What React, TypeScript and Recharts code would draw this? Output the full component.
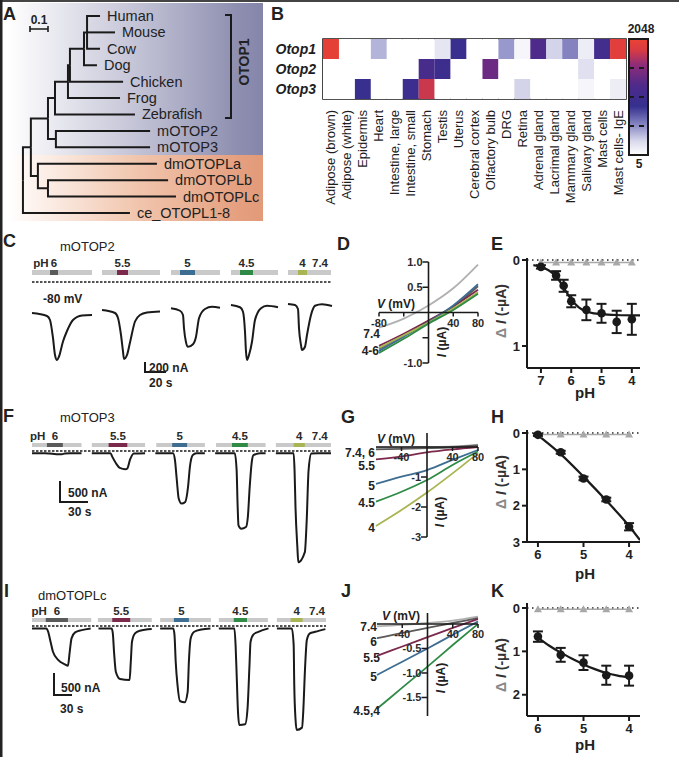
import React from "react";
import {
  ComposedChart,
  BarChart,
  Bar,
  Cell,
  Line,
  Scatter,
  XAxis,
  YAxis,
  ReferenceArea,
  ReferenceLine,
  ErrorBar,
} from "recharts";

const FONT = "'Liberation Sans', Arial, Helvetica, sans-serif";
const INK = "#1a1a1a";
const ZERO = { top: 0, right: 0, bottom: 0, left: 0 };
const PH_COLORS = ["#5a5a5a", "#7b2a4c", "#3e6d92", "#2f8a45", "#a9b552"];
const GRAY_74 = "#b0b0b0";

// ---------- A: tree ----------
const leafNames = ["Human", "Mouse", "Cow", "Dog", "Chicken", "Frog", "Zebrafish", "mOTOP2", "mOTOP3", "dmOTOPLa", "dmOTOPLb", "dmOTOPLc", "ce_OTOPL1-8"];
const leafParents = ["nHMC", "nHMC", "nHMC", "nDog", "nChick", "nFrog", "n5", "n6", "n6", "n3", "n4", "n4", "root"];
const leafDepth = [0.428, 0.511, 0.428, 0.411, 0.556, 0.539, 0.622, 0.706, 0.706, 0.744, 0.806, 0.85, 0.594];
const nodeIds = ["root", "n1", "n2", "n3", "n4", "n5", "n6", "nFrog", "nChick", "nDog", "nHMC"];
const nodeParents = [null, "root", "n1", "n1", "n3", "n2", "n2", "n5", "nFrog", "nChick", "nDog"];
const nodeDepth = [0, 0.044, 0.139, 0.083, 0.139, 0.178, 0.183, 0.25, 0.261, 0.339, 0.356];
const nodeRow = [10, 8, 6.25, 9.75, 10.5, 5, 7.5, 4, 3, 2, 1];

// ---------- B: heatmap ----------
const tissues = ["Adipose (brown)", "Adipose (white)", "Epidermis", "Heart", "Intestine, large", "Intestine, small", "Stomach", "Testis", "Uterus", "Cerebral cortex", "Olfactory bulb", "DRG", "Retina", "Adrenal gland", "Lacrimal gland", "Mammary gland", "Salivary gland", "Mast cells", "Mast cells- IgE"];
const genes = ["Otop1", "Otop2", "Otop3"];
const otop1 = [1700, 0, 0, 15, 0, 0, 0, 8, 75, 0, 0, 20, 6, 185, 11, 25, 7, 115, 1500];
const otop2 = [0, 0, 0, 0, 0, 0, 137, 90, 0, 0, 300, 0, 0, 0, 0, 0, 9, 0, 0];
const otop3 = [0, 0, 75, 0, 0, 85, 990, 0, 0, 0, 0, 0, 11, 0, 0, 0, 6, 0, 7];
const heatMin = 5;
const heatMax = 2048;
const heatStops: [number, string][] = [
  [0, "#ffffff"], [0.12, "#d9d9ec"], [0.25, "#8d8dc6"], [0.42, "#35308f"],
  [0.6, "#4e2a8b"], [0.78, "#902c78"], [0.9, "#d63b45"], [1, "#ec4232"],
];
const cbDashes = [22.6, 101, 453];

// ---------- C / F / I: current traces (t in s, I in nA) ----------
const traceC = [
  [[0, 0], [15, -60], [18, -140], [21, -500], [23, -840], [25, -940], [27, -870], [31, -570], [35, -360], [41, -140], [50, -50], [60, -40]],
  [[70, 60], [83, 0], [86, -100], [89, -440], [91, -770], [92, -920], [95, -840], [98, -590], [103, -170], [108, -40], [115, 10], [128, 30]],
  [[139, 95], [148, 45], [151, -40], [152, -305], [154, -585], [156, -675], [161, -625], [164, -475], [167, -105], [173, 80], [180, 125], [188, 105]],
  [[199, 160], [208, 115], [211, 25], [213, -375], [214, -775], [215, -940], [217, -840], [220, -575], [223, -140], [229, 95], [235, 145], [246, 115]],
  [[256, 180], [263, 160], [266, 80], [267, -305], [269, -640], [270, -740], [273, -675], [275, -440], [279, -40], [283, 145], [290, 175], [300, 140]],
];
const traceF = [
  [[0, 0], [14, 0], [19, -8], [26, -24], [32, -24], [35, -8], [41, 0], [53, 0]],
  [[64, 0], [84, 0], [86, -89], [90, -247], [94, -353], [100, -384], [102, -367], [105, -151], [109, -8], [121, 0]],
  [[132, 0], [151, 0], [153, -168], [155, -648], [157, -1087], [160, -1207], [164, -1167], [167, -808], [169, -328], [172, -48], [176, 0], [185, 0]],
  [[196, 0], [217, 0], [219, -408], [220, -1207], [221, -1728], [224, -1808], [229, -1768], [231, -1528], [233, -808], [235, -248], [237, -48], [244, 0], [250, 0]],
  [[261, 0], [280, 0], [281, -408], [282, -1288], [284, -2248], [285, -2608], [292, -2368], [294, -1608], [296, -408], [299, -8], [306, 0], [320, 0]],
];
const traceI = [
  [[0, 0], [24, 0], [27, -77], [31, -304], [35, -531], [44, -720], [55, -817], [60, -849], [63, -531], [66, -227], [72, -91], [83, -39], [98, 0]],
  [[111, 0], [133, 0], [135, -113], [137, -531], [140, -985], [147, -1150], [163, -1173], [165, -757], [167, -304], [172, -113], [180, -54], [200, -16]],
  [[214, 0], [236, 0], [238, -152], [240, -757], [243, -1286], [247, -1650], [255, -1680], [260, -1438], [262, -757], [265, -227], [271, -77], [283, -23], [298, 0]],
  [[312, 0], [338, 0], [340, -379], [342, -1135], [344, -1892], [346, -2194], [356, -2178], [360, -1815], [363, -908], [365, -304], [370, -136], [378, -77], [395, 0]],
  [[409, 0], [434, 0], [437, -379], [438, -1286], [440, -2043], [442, -2308], [451, -2255], [453, -1892], [456, -908], [459, -265], [464, -113], [473, -77], [490, -16]],
];
// perfusion windows (s): grey = bath, coloured = acid pulse
const stimC = { gray: [[0, 60], [70, 128], [139, 188], [199, 246], [256, 299]], ph: [[18, 26], [85, 96], [148, 163], [208, 221], [266, 275]], phAt: 9, at74: 288 };
const stimF = { gray: [[0, 53], [64, 121], [133, 185], [197, 250], [261, 320]], ph: [[16, 33], [82, 102], [150, 166], [214, 231], [280, 292]], phAt: 6, at74: 308 };
const stimI = { gray: [[0, 99], [110, 200], [214, 299], [312, 394], [409, 491]], ph: [[23, 60], [134, 164], [237, 262], [337, 359], [432, 452]], phAt: 12, at74: 476 };
const pulseLabels = ["6", "5.5", "5", "4.5", "4"];

// ---------- D / G / J: I-V curves (mV, uA) ----------
const ivV = [-80, -40, 0, 40, 80];
const ivD = [
  { c: GRAY_74, i: [-0.3, -0.12, 0.14, 0.48, 0.95] },
  { c: PH_COLORS[0], i: [-0.72, -0.45, -0.17, 0.12, 0.52] },
  { c: PH_COLORS[1], i: [-0.66, -0.42, -0.16, 0.12, 0.45] },
  { c: PH_COLORS[2], i: [-0.76, -0.48, -0.19, 0.14, 0.56] },
  { c: PH_COLORS[4], i: [-0.7, -0.45, -0.2, 0.08, 0.4] },
  { c: PH_COLORS[3], i: [-0.8, -0.52, -0.22, 0.05, 0.37] },
];
const ivG = [
  { c: GRAY_74, i: [-0.02, -0.01, 0, 0.02, 0.08] },
  { c: PH_COLORS[0], i: [-0.08, -0.06, -0.04, -0.01, 0.05] },
  { c: PH_COLORS[1], i: [-0.41, -0.32, -0.18, -0.08, 0] },
  { c: PH_COLORS[2], i: [-1.23, -0.99, -0.77, -0.43, -0.1] },
  { c: PH_COLORS[3], i: [-1.82, -1.49, -1.1, -0.6, -0.15] },
  { c: PH_COLORS[4], i: [-2.63, -2.1, -1.52, -0.88, -0.2] },
];
const ivJ = [
  { c: GRAY_74, i: [-0.05, -0.02, 0.02, 0.07, 0.15] },
  { c: PH_COLORS[0], i: [-0.29, -0.18, -0.08, 0.02, 0.12] },
  { c: PH_COLORS[1], i: [-0.65, -0.46, -0.27, -0.08, 0.1] },
  { c: PH_COLORS[2], i: [-1.04, -0.77, -0.5, -0.22, 0.05] },
  { c: PH_COLORS[3], i: [-1.73, -1.3, -0.87, -0.43, 0] },
];

// ---------- E / H / K: dose response ----------
const ePH = [7, 6.5, 6.25, 6, 5.5, 5, 4.5, 4];
const eVal = [0.08, 0.18, 0.3, 0.48, 0.58, 0.62, 0.72, 0.69];
const eErr = [0.02, 0.05, 0.07, 0.07, 0.12, 0.11, 0.13, 0.18];
const eFitPH = [7.25, 7, 6.75, 6.5, 6.25, 6, 5.75, 5.5, 5.25, 5, 4.5, 3.73];
const eFitVal = [0.06, 0.08, 0.12, 0.19, 0.32, 0.46, 0.55, 0.6, 0.62, 0.63, 0.64, 0.645];
const eCtrlPH = [7, 6.5, 6, 5.5, 5, 4.5, 4];
const eCtrlVal = [0.03, 0.03, 0.03, 0.03, 0.03, 0.03, 0.03];

const hPH = [6, 5.5, 5, 4.5, 4];
const hVal = [0.05, 0.53, 1.25, 1.83, 2.58];
const hErr = [0.03, 0.04, 0.05, 0.05, 0.1];
const hFitPH = [6.08, 6, 5.5, 5, 4.5, 4, 3.76];
const hFitVal = [-0.02, 0.06, 0.58, 1.2, 1.86, 2.56, 2.95];
const hCtrlVal = [0.04, 0.04, 0.04, 0.04, 0.04];

const kPH = [6, 5.5, 5, 4.5, 4];
const kVal = [0.66, 1.08, 1.26, 1.55, 1.56];
const kErr = [0.12, 0.16, 0.17, 0.22, 0.23];
const kFitPH = [6, 5.75, 5.5, 5.25, 5, 4.75, 4.5, 4.25, 4];
const kFitVal = [0.68, 0.87, 1.03, 1.17, 1.3, 1.41, 1.5, 1.56, 1.6];
const kCtrlVal = [0.03, 0.03, 0.03, 0.03, 0.03];

// ---------- helpers ----------
const hexToRgb = (h: string) => [1, 3, 5].map((k) => parseInt(h.slice(k, k + 2), 16));
function heatColor(v: number) {
  if (v < heatMin) return "#ffffff";
  const t = Math.min(1, Math.log(v / heatMin) / Math.log(heatMax / heatMin));
  for (let k = 1; k < heatStops.length; k++) {
    const [t1, c1] = heatStops[k];
    const [t0, c0] = heatStops[k - 1];
    if (t <= t1) {
      const f = (t - t0) / (t1 - t0);
      const a = hexToRgb(c0);
      const b = hexToRgb(c1);
      return `rgb(${a.map((x, j) => Math.round(x + (b[j] - x) * f)).join(",")})`;
    }
  }
  return heatStops[heatStops.length - 1][1];
}
const pts = (xs: number[], ys: number[]) => xs.map((x, k) => ({ x, y: ys[k] }));

const Abs = ({ left, top, children }: any) => (
  <div style={{ position: "absolute", left, top }}>{children}</div>
);

function Tree() {
  const pos: Record<string, { x: number; y: number }> = {};
  nodeIds.forEach((id, k) => (pos[id] = { x: nodeDepth[k], y: nodeRow[k] }));
  const edges: { x: number; y: number }[][] = [];
  nodeIds.forEach((id, k) => {
    const p = nodeParents[k];
    if (p) edges.push([{ x: pos[p].x, y: pos[p].y }, { x: pos[p].x, y: nodeRow[k] }, { x: nodeDepth[k], y: nodeRow[k] }]);
  });
  const leaves = leafNames.map((name, k) => ({ name, x: leafDepth[k], y: k }));
  leaves.forEach((l, k) => {
    const p = pos[leafParents[k]];
    edges.push([{ x: p.x, y: p.y }, { x: p.x, y: l.y }, { x: l.x, y: l.y }]);
  });
  const xd: [number, number] = [-0.083, 1.333];
  return (
    <ComposedChart width={255} height={218} margin={ZERO}>
      <defs>
        <linearGradient id="gPurple" x1="0" y1="0" x2="1" y2="0">
          <stop offset="0" stopColor="#ffffff" />
          <stop offset="0.1" stopColor="#f3f3f7" />
          <stop offset="0.5" stopColor="#c4c4d7" />
          <stop offset="0.9" stopColor="#8e8fb0" />
          <stop offset="1" stopColor="#8485a9" />
        </linearGradient>
        <linearGradient id="gOrange" x1="0" y1="0" x2="1" y2="0">
          <stop offset="0" stopColor="#ffffff" />
          <stop offset="0.1" stopColor="#fdf3ee" />
          <stop offset="0.5" stopColor="#f1c6ae" />
          <stop offset="0.9" stopColor="#e5a080" />
          <stop offset="1" stopColor="#e29a79" />
        </linearGradient>
      </defs>
      <XAxis type="number" dataKey="x" domain={xd} hide />
      <YAxis type="number" dataKey="y" domain={[-0.79, 12.49]} reversed hide />
      <ReferenceArea x1={xd[0]} x2={xd[1]} y1={-0.79} y2={8.47} fill="url(#gPurple)" fillOpacity={1} stroke="none" />
      <ReferenceArea x1={xd[0]} x2={xd[1]} y1={8.47} y2={12.49} fill="url(#gOrange)" fillOpacity={1} stroke="none" />
      {edges.map((e, k) => (
        <Line key={k} data={e} dataKey="y" type="linear" stroke={INK} strokeWidth={2} dot={false} isAnimationActive={false} />
      ))}
      <Scatter
        data={leaves}
        isAnimationActive={false}
        shape={(p: any) => (
          <text x={p.cx + 7} y={p.cy} dominantBaseline="central" fontSize={14.5} fill="#222" fontFamily={FONT}>
            {p.payload.name}
          </text>
        )}
      />
    </ComposedChart>
  );
}

function Heatmap() {
  const rows = tissues.map((t) => ({ tissue: t, r3: 1, r2: 1, r1: 1 }));
  const TissueTick = ({ x, y, payload }: any) => (
    <text transform={`translate(${x},${y + 11}) rotate(-90)`} textAnchor="end" dominantBaseline="central" fontSize={13} fill="#1e1e1e" fontFamily={FONT}>
      {payload.value}
    </text>
  );
  const GeneTick = ({ x, y, payload }: any) => (
    <text x={x} y={y} textAnchor="end" dominantBaseline="central" fontSize={14} fontWeight="bold" fontStyle="italic" fill="#1e1e1e" fontFamily={FONT}>
      {genes[Math.min(2, Math.floor(3 - payload.value))]}
    </text>
  );
  return (
    <BarChart width={353} height={175} data={rows} margin={ZERO} barCategoryGap={0} barGap={0}>
      <XAxis dataKey="tissue" type="category" interval={0} height={115} tickLine={false} axisLine={false} tickSize={0} tickMargin={0} tick={<TissueTick />} />
      <YAxis type="number" domain={[0, 3]} ticks={[0.5, 1.5, 2.5]} interval={0} width={50} tickLine={false} axisLine={false} tickSize={0} tickMargin={7} tick={<GeneTick />} />
      <Bar dataKey="r3" stackId="h" isAnimationActive={false}>
        {otop3.map((v, k) => <Cell key={k} fill={heatColor(v)} />)}
      </Bar>
      <Bar dataKey="r2" stackId="h" isAnimationActive={false}>
        {otop2.map((v, k) => <Cell key={k} fill={heatColor(v)} />)}
      </Bar>
      <Bar dataKey="r1" stackId="h" isAnimationActive={false}>
        {otop1.map((v, k) => <Cell key={k} fill={heatColor(v)} />)}
      </Bar>
      <ReferenceArea y1={0} y2={3} fill="none" fillOpacity={0} stroke={INK} strokeWidth={1.6} />
    </BarChart>
  );
}

function ColorBar() {
  return (
    <ComposedChart width={19} height={116} margin={ZERO} data={[{ x: 0, y: heatMin }, { x: 1, y: heatMax }]}>
      <defs>
        <linearGradient id="cbGrad" x1="0" y1="1" x2="0" y2="0">
          {heatStops.map(([o, c]) => <stop key={o} offset={o} stopColor={c} />)}
        </linearGradient>
      </defs>
      <XAxis type="number" dataKey="x" domain={[0, 1]} hide />
      <YAxis type="number" dataKey="y" scale="log" domain={[heatMin, heatMax]} hide />
      <ReferenceArea x1={0} x2={1} y1={heatMin} y2={heatMax} fill="url(#cbGrad)" fillOpacity={1} stroke={INK} strokeWidth={2} />
      {cbDashes.map((d) => (
        <ReferenceLine key={d} y={d} stroke={INK} strokeWidth={2} strokeDasharray="5 5" />
      ))}
    </ComposedChart>
  );
}

const textShape = (p: any) => (
  <text x={p.cx} y={p.cy} textAnchor="middle" dominantBaseline="central" fontSize={11.5} fontWeight="bold" fill="#2a2a2a" fontFamily={FONT}>
    {p.payload.text}
  </text>
);

function StimRow({ width, xMax, stim, barH }: any) {
  const labels = [
    ...stim.ph.map(([a, b]: number[], k: number) => ({ x: (a + b) / 2, y: 7.5, text: pulseLabels[k] })),
    { x: stim.phAt, y: 7.5, text: "pH" },
    { x: stim.at74, y: 7.5, text: "7.4" },
  ];
  const dashY = 15 + barH + (barH > 4 ? 7 : 4);
  return (
    <ComposedChart width={width} height={30} margin={ZERO} data={[]}>
      <XAxis type="number" dataKey="x" domain={[0, xMax]} hide />
      <YAxis type="number" dataKey="y" domain={[0, 30]} reversed hide />
      {stim.gray.map(([a, b]: number[], k: number) => (
        <ReferenceArea key={"g" + k} x1={a} x2={b} y1={15} y2={15 + barH} fill="#c9c9c9" fillOpacity={1} stroke="none" />
      ))}
      {stim.ph.map(([a, b]: number[], k: number) => (
        <ReferenceArea key={"p" + k} x1={a} x2={b} y1={15} y2={15 + barH} fill={PH_COLORS[k]} fillOpacity={1} stroke="none" />
      ))}
      <ReferenceLine y={dashY} stroke={INK} strokeWidth={1.5} strokeDasharray="2.5 1.5" />
      <Scatter data={labels} shape={textShape} isAnimationActive={false} />
    </ComposedChart>
  );
}

function Traces({ width, height, xMax, yDomain, traces }: any) {
  return (
    <ComposedChart width={width} height={height} margin={ZERO}>
      <XAxis type="number" dataKey="x" domain={[0, xMax]} hide />
      <YAxis type="number" dataKey="y" domain={yDomain} hide />
      {traces.map((tr: number[][], k: number) => (
        <Line key={k} data={tr.map(([x, y]) => ({ x, y }))} dataKey="y" type="monotone" stroke={INK} strokeWidth={2} dot={false} isAnimationActive={false} />
      ))}
    </ComposedChart>
  );
}

function IV({ width, height, yDomain, series, xTicks, xLabels, yTicks, yLabels, fmt }: any) {
  const tx = (6 * 160) / width;
  const ty = (4 * (yDomain[1] - yDomain[0])) / height;
  return (
    <ComposedChart width={width} height={height} margin={ZERO}>
      <XAxis type="number" dataKey="x" domain={[-80, 80]} hide />
      <YAxis type="number" dataKey="y" domain={yDomain} hide />
      {series.map((s: any, k: number) => (
        <Line key={k} data={pts(ivV, s.i)} dataKey="y" type="monotone" stroke={s.c} strokeWidth={1.8} dot={false} isAnimationActive={false} />
      ))}
      <ReferenceLine y={0} stroke={INK} strokeWidth={1.6} />
      <ReferenceLine x={0} stroke={INK} strokeWidth={1.6} />
      {xTicks.map((v: number) => (
        <ReferenceLine key={"xt" + v} segment={[{ x: v, y: 0 }, { x: v, y: -ty }]} stroke={INK} strokeWidth={1.5} />
      ))}
      {yTicks.map((v: number) => (
        <ReferenceLine key={"yt" + v} segment={[{ x: 0, y: v }, { x: -tx, y: v }]} stroke={INK} strokeWidth={1.5} />
      ))}
      <Scatter
        data={xLabels.map((v: number) => ({ x: v, y: 0 }))}
        isAnimationActive={false}
        shape={(p: any) => (
          <text x={p.cx} y={p.cy + 10} textAnchor="middle" dominantBaseline="central" fontSize={11} fontWeight="bold" fill="#2a2a2a" fontFamily={FONT}>
            {p.payload.x}
          </text>
        )}
      />
      <Scatter
        data={yLabels.map((v: number) => ({ x: 0, y: v }))}
        isAnimationActive={false}
        shape={(p: any) => (
          <text x={p.cx - 6} y={p.cy} textAnchor="end" dominantBaseline="central" fontSize={11} fontWeight="bold" fill="#2a2a2a" fontFamily={FONT}>
            {fmt(p.payload.y)}
          </text>
        )}
      />
    </ComposedChart>
  );
}

const Tri = (p: any) =>
  p.cx == null ? null : (
    <polygon key={p.key} points={`${p.cx},${p.cy - 4} ${p.cx - 4},${p.cy + 3} ${p.cx + 4},${p.cy + 3}`} fill="#a8a8a8" />
  );

function Dose({ plotH, xDomain, xTicks, yDomain, yTicks, phs, vals, errs, fit, ctrl }: any) {
  const axisStyle = { stroke: INK, strokeWidth: 2 };
  const tickStyle = { fontSize: 13, fontWeight: "bold", fill: "#222", fontFamily: FONT };
  return (
    <ComposedChart width={143} height={plotH + 22} margin={ZERO}>
      <XAxis type="number" dataKey="x" domain={xDomain} reversed ticks={xTicks} interval={0} height={22} axisLine={axisStyle} tickLine={axisStyle} tickSize={5} tickMargin={3} tick={tickStyle} allowDataOverflow />
      <YAxis type="number" dataKey="y" domain={yDomain} reversed ticks={yTicks} interval={0} width={30} axisLine={axisStyle} tickLine={axisStyle} tickSize={5} tickMargin={2} tick={tickStyle} allowDataOverflow />
      <ReferenceLine y={0} stroke="#222" strokeWidth={1.6} strokeDasharray="1.5 3.5" />
      <Line data={ctrl} dataKey="y" type="linear" stroke="#a8a8a8" strokeWidth={1.6} dot={<Tri />} isAnimationActive={false} />
      <Line data={fit} dataKey="y" type="monotone" stroke={INK} strokeWidth={2.2} dot={false} isAnimationActive={false} />
      <Scatter data={phs.map((x: number, k: number) => ({ x, y: vals[k], e: errs[k] }))} fill={INK} isAnimationActive={false}
        shape={(p: any) => <circle cx={p.cx} cy={p.cy} r={4.3} fill={INK} />}>
        <ErrorBar dataKey="e" direction="y" width={5} stroke={INK} strokeWidth={2} />
      </Scatter>
    </ComposedChart>
  );
}

const Txt = ({ x, y, s = 12, w = "bold", a = "start", r = 0, children, fill = "#222" }: any) => (
  <text x={x} y={y} fontSize={s} fontWeight={w} textAnchor={a} fill={fill} fontFamily={FONT}
    transform={r ? `rotate(${r} ${x} ${y})` : undefined} dominantBaseline={r ? "central" : undefined}>
    {children}
  </text>
);

export default function App() {
  return (
    <div style={{ position: "absolute", left: 0, top: 0, width: 679, height: 757, background: "#fff", overflow: "hidden", fontFamily: FONT }}>
      <style>{`.recharts-surface{overflow:visible}`}</style>
      <Abs left={8} top={3}><Tree /></Abs>
      <Abs left={273} top={39}><Heatmap /></Abs>
      <Abs left={629} top={39}><ColorBar /></Abs>

      <Abs left={32} top={255}><StimRow width={300} xMax={300} stim={stimC} barH={5} /></Abs>
      <Abs left={32} top={303}><Traces width={300} height={60} xMax={300} yDomain={[-1000, 200]} traces={traceC} /></Abs>
      <Abs left={32} top={428}><StimRow width={299} xMax={320} stim={stimF} barH={4} /></Abs>
      <Abs left={32} top={449}><Traces width={299} height={117} xMax={320} yDomain={[-2700, 100]} traces={traceF} /></Abs>
      <Abs left={32} top={603}><StimRow width={294} xMax={491} stim={stimI} barH={4} /></Abs>
      <Abs left={32} top={624}><Traces width={294} height={110} xMax={491} yDomain={[-2400, 100]} traces={traceI} /></Abs>

      <Abs left={379} top={262}>
        <IV width={99} height={101} yDomain={[-1, 1]} series={ivD} xTicks={[-80, -40, 40, 80]} xLabels={[-80, 40, 80]} yTicks={[1, 0.5, -0.5, -1]} yLabels={[1, 0.5, -1]} fmt={(v: number) => v.toFixed(1)} />
      </Abs>
      <Abs left={376} top={433}>
        <IV width={102} height={104} yDomain={[-3, 0.467]} series={ivG} xTicks={[-40, 40, 80]} xLabels={[-40, 40, 80]} yTicks={[-1, -2, -3]} yLabels={[-1, -2, -3]} fmt={(v: number) => String(v)} />
      </Abs>
      <Abs left={377} top={613}>
        <IV width={101} height={103} yDomain={[-1.878, 0.224]} series={ivJ} xTicks={[-40, 40, 80]} xLabels={[-40, 40, 80]} yTicks={[-0.5, -1, -1.5]} yLabels={[-0.5, -1, -1.5]} fmt={(v: number) => v.toFixed(1)} />
      </Abs>

      <Abs left={497} top={258}>
        <Dose plotH={110} xDomain={[3.73, 7.46]} xTicks={[7, 6, 5, 4]} yDomain={[-0.023, 1.256]} yTicks={[0, 1]}
          phs={ePH} vals={eVal} errs={eErr} fit={pts(eFitPH, eFitVal)} ctrl={pts(eCtrlPH, eCtrlVal)} />
      </Abs>
      <Abs left={497} top={430}>
        <Dose plotH={112} xDomain={[3.76, 6.24]} xTicks={[6, 5, 4]} yDomain={[-0.083, 3]} yTicks={[0, 1, 2, 3]}
          phs={hPH} vals={hVal} errs={hErr} fit={pts(hFitPH, hFitVal)} ctrl={pts(hPH, hCtrlVal)} />
      </Abs>
      <Abs left={497} top={603}>
        <Dose plotH={113} xDomain={[3.76, 6.24]} xTicks={[6, 5, 4]} yDomain={[-0.115, 2.49]} yTicks={[0, 1, 2]}
          phs={kPH} vals={kVal} errs={kErr} fit={pts(kFitPH, kFitVal)} ctrl={pts(kPH, kCtrlVal)} />
      </Abs>

      <svg width={679} height={757} style={{ position: "absolute", left: 0, top: 0, pointerEvents: "none" }}>
        <line x1={0} y1={1} x2={679} y2={1} stroke="#444" strokeWidth={2} />
        <line x1={1} y1={0} x2={1} y2={757} stroke="#222" strokeWidth={3} />
        {/* panel letters */}
        {[["A", 3, 20], ["B", 271, 20], ["C", 3, 247], ["D", 337, 250], ["E", 491, 250], ["F", 3, 422], ["G", 341, 423], ["H", 491, 423], ["I", 4, 597], ["J", 341, 597], ["K", 491, 597]].map(([l, x, y]: any) => (
          <Txt key={l} x={x} y={y} s={18}>{l}</Txt>
        ))}
        {/* tree scale bar + bracket */}
        <path d="M30 26 V32 M30 29 H48 M48 26 V32" stroke={INK} strokeWidth={1.6} fill="none" />
        <Txt x={39} y={24} a="middle" s={12}>0.1</Txt>
        <path d="M225 15 H231 V118 H225" stroke={INK} strokeWidth={2} fill="none" />
        <Txt x={244} y={62} a="middle" s={14} r={-90}>OTOP1</Txt>
        {/* colour bar labels */}
        <Txt x={641} y={33} a="middle" s={12}>2048</Txt>
        <Txt x={639} y={168} a="middle" s={12}>5</Txt>
        {/* trace annotations */}
        <Txt x={60} y={251} s={13} w="normal">mOTOP2</Txt>
        <Txt x={43} y={303} s={12}>-80 mV</Txt>
        <path d="M145 362 V372 H166" stroke={INK} strokeWidth={2} fill="none" />
        <Txt x={149} y={372} s={12}>200 nA</Txt>
        <Txt x={149} y={387} s={12}>20 s</Txt>
        <Txt x={60} y={422} s={13} w="normal">mOTOP3</Txt>
        <path d="M60 481 V502 H88" stroke={INK} strokeWidth={2} fill="none" />
        <Txt x={68} y={497} s={12}>500 nA</Txt>
        <Txt x={68} y={516} s={12}>30 s</Txt>
        <Txt x={38} y={600} s={13} w="normal">dmOTOPLc</Txt>
        <path d="M54 673 V695 H72" stroke={INK} strokeWidth={2} fill="none" />
        <Txt x={61} y={692} s={12}>500 nA</Txt>
        <Txt x={60} y={713} s={12}>30 s</Txt>
        {/* I-V annotations */}
        {[[377, 308], [377, 443], [382, 620]].map(([x, y]) => (
          <text key={y} x={x} y={y} fontSize={12} fontWeight="bold" fill="#222" fontFamily={FONT}>
            <tspan fontStyle="italic">V</tspan> (mV)
          </text>
        ))}
        {[[442, 342], [440, 512], [441, 678]].map(([x, y]) => (
          <text key={y} x={x} y={y} fontSize={12} fontWeight="bold" fill="#222" fontFamily={FONT} textAnchor="middle" dominantBaseline="central" transform={`rotate(-90 ${x} ${y})`}>
            <tspan fontStyle="italic">I</tspan> (µA)
          </text>
        ))}
        <Txt x={380} y={338} a="end">7.4</Txt>
        <Txt x={379} y={355} a="end">4-6</Txt>
        <Txt x={375} y={457} a="end">7.4, 6</Txt>
        <Txt x={375} y={470} a="end">5.5</Txt>
        <Txt x={375} y={490} a="end">5</Txt>
        <Txt x={375} y={507} a="end">4.5</Txt>
        <Txt x={375} y={532} a="end">4</Txt>
        <Txt x={377} y={631} a="end">7.4</Txt>
        <Txt x={377} y={646} a="end">6</Txt>
        <Txt x={380} y={662} a="end">5.5</Txt>
        <Txt x={377} y={681} a="end">5</Txt>
        <Txt x={380} y={715} a="end">4.5,4</Txt>
        {/* dose-response axis titles */}
        {[[311, 398], [482, 579], [665, 750]].map(([cy, py]) => (
          <g key={cy}>
            <text x={501} y={cy} fontSize={14} fontWeight="bold" fill="#333" fontFamily={FONT} textAnchor="middle" dominantBaseline="central" transform={`rotate(-90 501 ${cy})`}>
              <tspan fill="#888">Δ</tspan> <tspan fontStyle="italic">I</tspan> (-µA)
            </text>
            <Txt x={585} y={py} a="middle" s={15}>pH</Txt>
          </g>
        ))}
      </svg>
    </div>
  );
}
